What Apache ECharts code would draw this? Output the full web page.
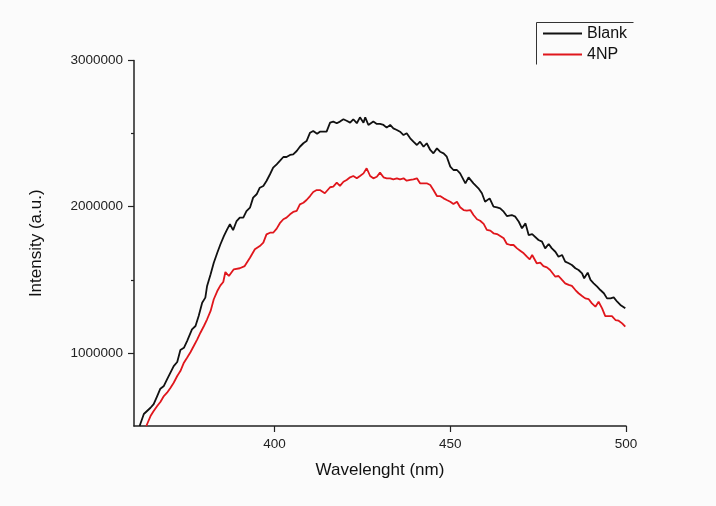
<!DOCTYPE html>
<html>
<head>
<meta charset="utf-8">
<script src="https://cdn.jsdelivr.net/npm/echarts@6/dist/echarts.min.js"></script>
<style>
  html, body { margin: 0; padding: 0; background: #fbfbfb; }
  #chart { width: 716px; height: 506px; }
</style>
</head>
<body>
<div id="chart"></div>
<script>
// wavelength (nm) and intensity (a.u.)
var blankNm = [361.6, 362.8, 364.7, 365.6, 366.6, 367.5, 368.5, 369.4, 371.3, 372.3, 373.2, 374.2, 375.1, 376.5, 377.5, 378.4, 379.4, 380.3, 380.8, 381.8,
  382.7, 383.7, 384.6, 385.6, 386.5, 387.3, 388.2, 389.2, 390.1, 391.1, 392.0, 393.0, 393.9, 394.9, 395.8, 396.8, 397.7, 398.7, 399.6, 400.6,
  401.5, 402.5, 403.4, 404.4, 405.3, 406.3, 407.2, 408.2, 409.1, 410.1, 411.0, 412.1, 412.9, 414.8, 415.8, 416.7, 417.7, 418.6, 419.6, 420.5,
  421.5, 422.4, 423.4, 424.3, 425.3, 425.8, 426.7, 428.1, 429.1, 430.0, 431.0, 431.9, 432.9, 433.8, 434.8, 435.7, 436.7, 437.6, 438.6, 439.5,
  440.5, 441.4, 442.4, 443.3, 444.3, 445.2, 446.2, 447.1, 448.1, 449.0, 450.0, 450.9, 451.9, 452.8, 454.3, 455.2, 456.6, 458.0, 459.0, 459.9,
  461.2, 462.3, 463.3, 464.2, 465.2, 466.1, 467.5, 468.5, 469.5, 470.4, 471.4, 472.3, 473.3, 475.1, 476.1, 477.0, 478.0, 478.9, 479.9, 480.8,
  481.8, 482.7, 483.7, 484.6, 485.6, 486.5, 487.5, 488.1, 489.1, 489.9, 490.8, 491.8, 492.7, 493.7, 494.6, 495.6, 496.5, 497.5, 498.4, 499.8];
var blankVal = [500000, 582000, 625000, 650000, 705000, 755000, 774000, 819000, 910000, 938000, 1020000, 1035000, 1081000, 1161000, 1184000, 1252000, 1343000, 1378000, 1458000, 1538000,
  1617000, 1685000, 1743000, 1800000, 1845000, 1880000, 1840000, 1902000, 1925000, 1925000, 1970000, 1993000, 2062000, 2085000, 2130000, 2142000, 2176000, 2222000, 2267000, 2290000,
  2313000, 2340000, 2340000, 2354000, 2358000, 2381000, 2410000, 2434000, 2449000, 2506000, 2518000, 2499000, 2513000, 2513000, 2575000, 2582000, 2571000, 2582000, 2598000, 2588000,
  2575000, 2598000, 2571000, 2611000, 2575000, 2611000, 2559000, 2582000, 2566000, 2566000, 2559000, 2541000, 2559000, 2536000, 2525000, 2513000, 2490000, 2502000, 2468000, 2445000,
  2422000, 2445000, 2410000, 2434000, 2388000, 2365000, 2399000, 2376000, 2365000, 2342000, 2274000, 2251000, 2251000, 2228000, 2160000, 2201000, 2160000, 2126000, 2092000, 2034000,
  2057000, 2000000, 1996000, 1989000, 1966000, 1936000, 1943000, 1932000, 1897000, 1852000, 1886000, 1806000, 1812000, 1772000, 1761000, 1715000, 1745000, 1715000, 1692000, 1658000,
  1670000, 1624000, 1613000, 1601000, 1579000, 1567000, 1544000, 1510000, 1549000, 1499000, 1476000, 1453000, 1430000, 1408000, 1373000, 1373000, 1380000, 1350000, 1328000, 1305000];

var npNm = [363.5, 364.7, 365.6, 366.6, 367.5, 368.5, 369.4, 370.4, 371.3, 372.3, 373.2, 374.2, 375.1, 376.1, 377.0, 378.0, 378.9, 379.9, 380.8, 381.8,
  382.7, 383.7, 384.6, 385.4, 386.0, 387.0, 388.4, 390.1, 391.5, 393.0, 394.4, 395.8, 396.8, 397.7, 398.7, 399.6, 400.6, 401.5, 402.5, 403.4,
  404.4, 405.3, 406.3, 407.2, 408.2, 409.1, 410.1, 411.0, 412.0, 412.9, 414.3, 415.8, 416.7, 417.7, 418.6, 419.6, 420.5, 421.5, 422.4, 423.4,
  424.3, 425.3, 426.2, 427.2, 428.1, 429.1, 430.0, 431.0, 431.9, 432.9, 433.8, 434.8, 435.7, 436.7, 437.6, 438.6, 439.5, 440.5, 441.4, 442.4,
  443.3, 444.3, 445.2, 446.2, 447.1, 448.1, 449.0, 450.0, 450.9, 451.9, 452.8, 453.8, 454.7, 455.7, 456.6, 457.6, 458.5, 459.5, 460.4, 461.4,
  462.3, 463.3, 464.2, 465.2, 466.1, 467.1, 468.0, 469.0, 469.9, 470.9, 471.8, 472.6, 473.3, 474.6, 475.6, 476.5, 477.5, 478.4, 479.9, 480.8,
  481.8, 482.7, 483.7, 484.6, 485.6, 486.5, 487.5, 488.4, 489.4, 490.3, 491.3, 492.2, 493.2, 494.1, 495.1, 496.0, 497.0, 497.9, 498.9, 499.8];
var npVal = [500000, 568000, 603000, 637000, 664000, 705000, 728000, 762000, 796000, 842000, 876000, 933000, 967000, 1006000, 1047000, 1093000, 1138000, 1184000, 1230000, 1287000,
  1367000, 1423000, 1462000, 1485000, 1553000, 1526000, 1572000, 1579000, 1594000, 1651000, 1709000, 1731000, 1754000, 1811000, 1822000, 1822000, 1850000, 1887000, 1914000, 1925000,
  1948000, 1964000, 1971000, 2016000, 2027000, 2046000, 2073000, 2101000, 2114000, 2114000, 2092000, 2133000, 2137000, 2164000, 2142000, 2171000, 2183000, 2201000, 2210000, 2194000,
  2210000, 2228000, 2263000, 2210000, 2194000, 2205000, 2233000, 2201000, 2194000, 2194000, 2187000, 2194000, 2187000, 2194000, 2178000, 2183000, 2187000, 2194000, 2160000, 2160000,
  2160000, 2148000, 2114000, 2073000, 2073000, 2057000, 2046000, 2034000, 2018000, 2034000, 1996000, 1977000, 1973000, 1977000, 1943000, 1914000, 1904000, 1882000, 1841000, 1836000,
  1818000, 1813000, 1800000, 1784000, 1745000, 1738000, 1738000, 1715000, 1699000, 1681000, 1658000, 1640000, 1670000, 1613000, 1617000, 1594000, 1585000, 1567000, 1521000, 1526000,
  1499000, 1476000, 1465000, 1458000, 1430000, 1408000, 1389000, 1373000, 1367000, 1339000, 1316000, 1350000, 1305000, 1252000, 1252000, 1252000, 1225000, 1220000, 1202000, 1179000];

var xTicks = [400, 450, 500];
var yTicks = [1000000, 2000000, 3000000];
var yMinorTicks = [1500000, 2500000];

function pairs(xs, ys) {
  var out = [];
  for (var i = 0; i < xs.length; i++) out.push([xs[i], ys[i]]);
  return out;
}

var font = "'Liberation Sans', Arial, sans-serif";
var chart = echarts.init(document.getElementById('chart'));

var option = {
  backgroundColor: '#fbfbfb',
  animation: false,
  textStyle: { fontFamily: font },
  grid: { left: 134, right: 90, top: 60.5, bottom: 80 },
  legend: {
    orient: 'vertical',
    left: 538,
    top: 20.5,
    icon: 'rect',
    itemWidth: 39,
    itemHeight: 2,
    itemGap: 5,
    textStyle: { fontFamily: font, fontSize: 16, lineHeight: 16, color: '#111' },
    data: ['Blank', '4NP']
  },
  graphic: [
    { type: 'line', shape: { x1: 536.5, y1: 22.5, x2: 633.5, y2: 22.5 }, style: { stroke: '#333', lineWidth: 1 } },
    { type: 'line', shape: { x1: 536.5, y1: 22.5, x2: 536.5, y2: 64.5 }, style: { stroke: '#333', lineWidth: 1 } }
  ],
  xAxis: {
    type: 'value',
    min: 360,
    max: 500,
    name: 'Wavelenght (nm)',
    nameLocation: 'middle',
    nameGap: 36,
    nameTextStyle: { fontFamily: font, fontSize: 17, color: '#111' },
    axisLine: { lineStyle: { color: '#222', width: 1.5 } },
    axisTick: { customValues: xTicks, length: 6, lineStyle: { color: '#222', width: 1.2 } },
    axisLabel: { customValues: xTicks, margin: 11, fontSize: 13.5, color: '#222', fontFamily: font },
    splitLine: { show: false }
  },
  yAxis: [
    {
      type: 'value',
      min: 500000,
      max: 3000000,
      name: 'Intensity (a.u.)',
      nameLocation: 'middle',
      nameGap: 89,
      nameTextStyle: { fontFamily: font, fontSize: 17, color: '#111' },
      axisLine: { show: true, lineStyle: { color: '#222', width: 1.5 } },
      axisTick: { show: true, customValues: yTicks, length: 6, lineStyle: { color: '#222', width: 1.2 } },
      axisLabel: {
        customValues: yTicks, margin: 11, fontSize: 13.5, color: '#222', fontFamily: font,
        formatter: function (v) { return String(v); }
      },
      splitLine: { show: false }
    },
    {
      type: 'value',
      min: 500000,
      max: 3000000,
      position: 'left',
      offset: 0,
      axisLine: { show: false },
      axisTick: { show: true, customValues: yMinorTicks, length: 3, lineStyle: { color: '#222', width: 1.2 } },
      axisLabel: { show: false },
      splitLine: { show: false }
    }
  ],
  series: [
    {
      name: 'Blank',
      type: 'line',
      symbol: 'none',
      color: '#111',
      lineStyle: { width: 1.8, color: '#111' },
      data: pairs(blankNm, blankVal)
    },
    {
      name: '4NP',
      type: 'line',
      symbol: 'none',
      color: '#e0161c',
      lineStyle: { width: 1.8, color: '#e0161c' },
      data: pairs(npNm, npVal)
    }
  ]
};

chart.setOption(option);
</script>
</body>
</html>
